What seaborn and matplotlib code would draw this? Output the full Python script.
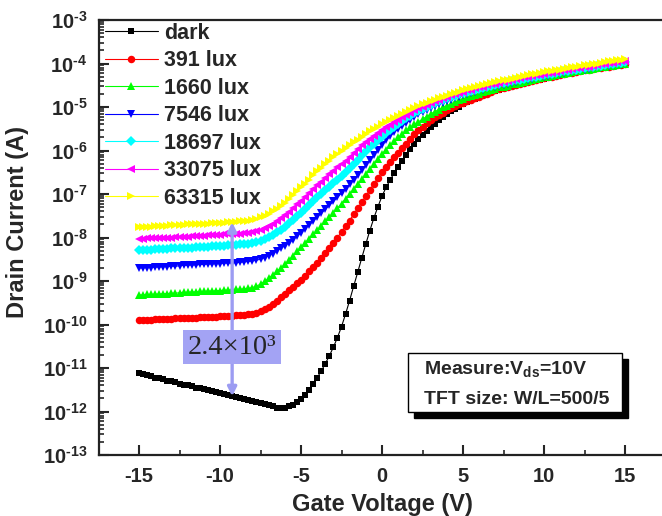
import numpy as np
import pandas as pd
import matplotlib
matplotlib.use("Agg")
import matplotlib.pyplot as plt
import seaborn as sns
from matplotlib.patches import Rectangle
from matplotlib.ticker import LogLocator, FuncFormatter, NullFormatter, MultipleLocator

# Gate voltage sweep (V)
gate_voltage = np.linspace(-15, 15, 121)

# log10 of drain current (A) for each illumination level
dark_log_id = [
    -11.12, -11.14, -11.17, -11.19, -11.22, -11.24, -11.26, -11.29,
    -11.31, -11.33, -11.36, -11.38, -11.40, -11.42, -11.45, -11.47,
    -11.49, -11.51, -11.54, -11.56, -11.58, -11.60, -11.63, -11.65,
    -11.67, -11.69, -11.72, -11.74, -11.76, -11.78, -11.81, -11.83,
    -11.85, -11.88, -11.91, -11.92, -11.91, -11.88, -11.84, -11.79,
    -11.72, -11.62, -11.50, -11.37, -11.22, -11.07, -10.90, -10.72,
    -10.52, -10.30, -10.05, -9.76, -9.45, -9.12, -8.80, -8.47,
    -8.15, -7.84, -7.55, -7.29, -7.05, -6.85, -6.68, -6.52,
    -6.38, -6.24, -6.10, -5.97, -5.85, -5.74, -5.64, -5.55,
    -5.46, -5.38, -5.30, -5.23, -5.16, -5.10, -5.04, -4.99,
    -4.94, -4.89, -4.85, -4.81, -4.77, -4.73, -4.70, -4.66,
    -4.63, -4.60, -4.57, -4.55, -4.52, -4.50, -4.47, -4.45,
    -4.43, -4.41, -4.39, -4.37, -4.35, -4.33, -4.31, -4.29,
    -4.27, -4.25, -4.23, -4.22, -4.20, -4.18, -4.17, -4.15,
    -4.14, -4.12, -4.11, -4.09, -4.08, -4.07, -4.05, -4.04,
    -4.03,
]
lux391_log_id = [
    -9.90, -9.90, -9.89, -9.89, -9.88, -9.88, -9.87, -9.87,
    -9.87, -9.86, -9.86, -9.85, -9.85, -9.84, -9.84, -9.83,
    -9.83, -9.82, -9.82, -9.82, -9.81, -9.81, -9.80, -9.80,
    -9.79, -9.79, -9.78, -9.77, -9.76, -9.74, -9.70, -9.65,
    -9.59, -9.52, -9.45, -9.37, -9.29, -9.21, -9.13, -9.05,
    -8.97, -8.88, -8.78, -8.68, -8.58, -8.47, -8.36, -8.24,
    -8.12, -8.00, -7.87, -7.74, -7.61, -7.47, -7.33, -7.19,
    -7.05, -6.91, -6.77, -6.63, -6.50, -6.38, -6.27, -6.16,
    -6.05, -5.94, -5.84, -5.73, -5.63, -5.54, -5.45, -5.37,
    -5.30, -5.24, -5.18, -5.13, -5.08, -5.03, -4.98, -4.94,
    -4.90, -4.86, -4.83, -4.80, -4.76, -4.72, -4.69, -4.65,
    -4.62, -4.59, -4.56, -4.54, -4.51, -4.49, -4.46, -4.44,
    -4.42, -4.40, -4.38, -4.36, -4.34, -4.32, -4.30, -4.28,
    -4.26, -4.24, -4.22, -4.21, -4.19, -4.17, -4.16, -4.14,
    -4.13, -4.11, -4.10, -4.08, -4.07, -4.06, -4.04, -4.03,
    -4.02,
]
lux1660_log_id = [
    -9.32, -9.32, -9.31, -9.31, -9.30, -9.30, -9.29, -9.29,
    -9.28, -9.28, -9.27, -9.26, -9.26, -9.25, -9.25, -9.24,
    -9.24, -9.23, -9.23, -9.22, -9.22, -9.21, -9.21, -9.20,
    -9.19, -9.19, -9.18, -9.17, -9.15, -9.12, -9.07, -9.01,
    -8.94, -8.86, -8.78, -8.70, -8.62, -8.52, -8.42, -8.32,
    -8.22, -8.12, -8.03, -7.93, -7.83, -7.73, -7.63, -7.53,
    -7.43, -7.32, -7.22, -7.11, -7.00, -6.89, -6.77, -6.66,
    -6.55, -6.43, -6.31, -6.19, -6.08, -5.98, -5.88, -5.79,
    -5.70, -5.62, -5.54, -5.47, -5.40, -5.34, -5.28, -5.22,
    -5.16, -5.11, -5.06, -5.01, -4.97, -4.93, -4.89, -4.85,
    -4.82, -4.78, -4.75, -4.72, -4.69, -4.66, -4.63, -4.60,
    -4.58, -4.55, -4.53, -4.51, -4.48, -4.46, -4.44, -4.42,
    -4.40, -4.38, -4.36, -4.34, -4.32, -4.30, -4.28, -4.27,
    -4.25, -4.23, -4.22, -4.20, -4.18, -4.17, -4.15, -4.14,
    -4.12, -4.11, -4.09, -4.08, -4.06, -4.05, -4.04, -4.02,
    -4.01,
]
lux7546_log_id = [
    -8.70, -8.70, -8.69, -8.69, -8.68, -8.68, -8.67, -8.67,
    -8.66, -8.66, -8.65, -8.64, -8.64, -8.63, -8.63, -8.62,
    -8.62, -8.61, -8.61, -8.60, -8.60, -8.59, -8.59, -8.58,
    -8.58, -8.57, -8.56, -8.55, -8.54, -8.52, -8.50, -8.46,
    -8.42, -8.37, -8.31, -8.25, -8.19, -8.12, -8.05, -7.97,
    -7.89, -7.80, -7.71, -7.62, -7.53, -7.44, -7.35, -7.26,
    -7.17, -7.08, -6.98, -6.88, -6.78, -6.67, -6.56, -6.45,
    -6.34, -6.22, -6.10, -5.98, -5.87, -5.77, -5.67, -5.58,
    -5.50, -5.43, -5.36, -5.29, -5.23, -5.17, -5.12, -5.07,
    -5.02, -4.98, -4.94, -4.90, -4.86, -4.83, -4.79, -4.76,
    -4.73, -4.70, -4.67, -4.65, -4.62, -4.60, -4.57, -4.55,
    -4.53, -4.51, -4.49, -4.47, -4.45, -4.43, -4.41, -4.39,
    -4.37, -4.35, -4.33, -4.32, -4.30, -4.28, -4.26, -4.25,
    -4.23, -4.21, -4.20, -4.18, -4.17, -4.15, -4.14, -4.12,
    -4.11, -4.09, -4.08, -4.06, -4.05, -4.03, -4.02, -4.01,
    -3.99,
]
lux18697_log_id = [
    -8.29, -8.29, -8.28, -8.28, -8.27, -8.27, -8.26, -8.26,
    -8.25, -8.25, -8.24, -8.24, -8.23, -8.23, -8.22, -8.22,
    -8.21, -8.21, -8.20, -8.20, -8.19, -8.19, -8.18, -8.18,
    -8.17, -8.16, -8.15, -8.14, -8.12, -8.10, -8.07, -8.03,
    -7.99, -7.94, -7.88, -7.82, -7.75, -7.67, -7.59, -7.51,
    -7.43, -7.35, -7.26, -7.17, -7.08, -7.00, -6.91, -6.83,
    -6.75, -6.67, -6.58, -6.50, -6.41, -6.31, -6.21, -6.11,
    -6.01, -5.92, -5.84, -5.76, -5.68, -5.60, -5.52, -5.45,
    -5.38, -5.32, -5.26, -5.20, -5.14, -5.09, -5.04, -4.99,
    -4.95, -4.91, -4.87, -4.83, -4.80, -4.77, -4.74, -4.71,
    -4.68, -4.65, -4.63, -4.60, -4.58, -4.56, -4.53, -4.51,
    -4.49, -4.47, -4.45, -4.43, -4.41, -4.39, -4.37, -4.35,
    -4.33, -4.32, -4.30, -4.28, -4.27, -4.25, -4.23, -4.22,
    -4.20, -4.18, -4.17, -4.15, -4.14, -4.12, -4.11, -4.09,
    -4.08, -4.06, -4.05, -4.03, -4.02, -4.01, -3.99, -3.98,
    -3.97,
]
lux33075_log_id = [
    -8.03, -8.03, -8.02, -8.02, -8.01, -8.01, -8.00, -8.00,
    -8.00, -7.99, -7.99, -7.98, -7.98, -7.97, -7.97, -7.96,
    -7.96, -7.95, -7.95, -7.94, -7.94, -7.93, -7.93, -7.92,
    -7.92, -7.91, -7.90, -7.89, -7.87, -7.85, -7.82, -7.78,
    -7.74, -7.69, -7.63, -7.56, -7.49, -7.41, -7.33, -7.24,
    -7.16, -7.07, -6.98, -6.89, -6.80, -6.72, -6.63, -6.55,
    -6.47, -6.39, -6.31, -6.23, -6.15, -6.06, -5.97, -5.88,
    -5.80, -5.73, -5.66, -5.60, -5.54, -5.47, -5.41, -5.35,
    -5.29, -5.23, -5.18, -5.13, -5.08, -5.03, -4.99, -4.95,
    -4.91, -4.87, -4.83, -4.80, -4.76, -4.73, -4.70, -4.67,
    -4.65, -4.62, -4.60, -4.57, -4.55, -4.53, -4.50, -4.48,
    -4.46, -4.44, -4.42, -4.40, -4.38, -4.36, -4.34, -4.32,
    -4.31, -4.29, -4.27, -4.26, -4.24, -4.22, -4.21, -4.19,
    -4.18, -4.16, -4.14, -4.13, -4.11, -4.10, -4.08, -4.07,
    -4.05, -4.04, -4.02, -4.01, -3.99, -3.98, -3.96, -3.95,
    -3.94,
]
lux63315_log_id = [
    -7.76, -7.76, -7.75, -7.75, -7.74, -7.74, -7.73, -7.73,
    -7.72, -7.72, -7.71, -7.71, -7.70, -7.70, -7.69, -7.69,
    -7.68, -7.68, -7.67, -7.67, -7.66, -7.66, -7.65, -7.65,
    -7.64, -7.63, -7.62, -7.61, -7.59, -7.57, -7.54, -7.50,
    -7.46, -7.40, -7.34, -7.27, -7.20, -7.12, -7.03, -6.94,
    -6.85, -6.76, -6.67, -6.57, -6.48, -6.40, -6.31, -6.23,
    -6.15, -6.08, -6.01, -5.94, -5.88, -5.81, -5.75, -5.68,
    -5.62, -5.56, -5.50, -5.45, -5.40, -5.35, -5.30, -5.25,
    -5.20, -5.15, -5.11, -5.06, -5.02, -4.98, -4.94, -4.91,
    -4.87, -4.84, -4.80, -4.77, -4.74, -4.71, -4.68, -4.65,
    -4.62, -4.59, -4.57, -4.54, -4.52, -4.49, -4.47, -4.45,
    -4.43, -4.41, -4.39, -4.37, -4.35, -4.33, -4.31, -4.29,
    -4.27, -4.25, -4.23, -4.22, -4.20, -4.18, -4.17, -4.15,
    -4.14, -4.12, -4.10, -4.09, -4.07, -4.06, -4.04, -4.03,
    -4.01, -4.00, -3.98, -3.97, -3.95, -3.94, -3.92, -3.91,
    -3.90,
]

series_labels = ["dark", "391 lux", "1660 lux", "7546 lux",
                 "18697 lux", "33075 lux", "63315 lux"]
series_log_id = [dark_log_id, lux391_log_id, lux1660_log_id, lux7546_log_id,
                 lux18697_log_id, lux33075_log_id, lux63315_log_id]

# on/off ratio annotation
ratio_text = "2.4×10³"
ratio_voltage = -9.25

# Styling
series_colors = ["#000000", "#ff0000", "#00ff00", "#0000ff",
                 "#00ffff", "#ff00ff", "#ffff00"]
series_markers = ["s", "o", "^", "v", "D", "<", ">"]
series_msize = [5.0, 5.4, 6.0, 6.0, 4.8, 6.0, 6.0]

sns.set_style("ticks")
plt.rcParams["font.family"] = ["Liberation Sans", "DejaVu Sans"]
plt.rcParams["font.weight"] = "bold"
plt.rcParams["axes.unicode_minus"] = False
plt.rcParams["mathtext.fontset"] = "custom"
plt.rcParams["mathtext.rm"] = "Liberation Sans:bold"
plt.rcParams["mathtext.bf"] = "Liberation Sans:bold"
plt.rcParams["mathtext.it"] = "Liberation Sans:bold:italic"

df = pd.concat(
    [pd.DataFrame({"Vg": gate_voltage,
                   "Id": 10.0 ** np.asarray(vals),
                   "series": lab})
     for lab, vals in zip(series_labels, series_log_id)],
    ignore_index=True,
)

fig = plt.figure(figsize=(6.62, 5.16), dpi=100)
ax = fig.add_axes([98.5 / 662, 61 / 516, 567 / 662, 435 / 516])

for lab, col, mk, ms in zip(series_labels, series_colors, series_markers, series_msize):
    sub = df[df["series"] == lab]
    sns.lineplot(data=sub, x="Vg", y="Id", ax=ax, color=col, marker=mk,
                 markersize=ms, markeredgewidth=0, linewidth=0.8,
                 label=lab, sort=False, estimator=None, errorbar=None)

ax.set_yscale("log")
ax.set_xlim(-17.5, 17.5)
ax.set_ylim(1e-13, 1e-3)


def decade_label(v, pos):
    e = int(round(np.log10(v)))
    if e < 0:
        return r"$\mathbf{10^{\text{-}%d}}$" % (-e)
    return r"$\mathbf{10^{%d}}$" % e


ax.xaxis.set_major_locator(MultipleLocator(5))
ax.xaxis.set_minor_locator(MultipleLocator(2.5))
ax.yaxis.set_major_locator(LogLocator(base=10, numticks=20))
ax.yaxis.set_minor_locator(LogLocator(base=10, subs=np.arange(2, 10), numticks=20))
ax.yaxis.set_minor_formatter(NullFormatter())
ax.yaxis.set_major_formatter(FuncFormatter(decade_label))

ax.tick_params(axis="both", which="major", direction="in", length=7, width=1.5,
               labelsize=14.5, top=False, right=False)
ax.tick_params(axis="both", which="minor", direction="in", length=3.5, width=1.2,
               top=False, right=False)
ax.tick_params(axis="x", which="major", pad=9)
ax.tick_params(axis="y", which="major", pad=8)
for lbl in ax.get_xticklabels():
    lbl.set_fontweight("bold")
for sp in ax.spines.values():
    sp.set_linewidth(1.6)
    sp.set_color("#222222")

ax.set_xlabel("Gate Voltage (V)", fontsize=17, fontweight="bold", labelpad=5)
ax.set_ylabel("Drain Current (A)", fontsize=17, fontweight="bold")
ax.yaxis.set_label_coords(-0.122, 0.535)

leg = ax.legend(loc="upper left", bbox_to_anchor=(0.0, 1.008), frameon=False,
                prop={"weight": "bold", "size": 15.5}, handlelength=2.45,
                handletextpad=0.3, labelspacing=0.3, borderaxespad=0.0,
                borderpad=0.3)

# Double-headed arrow between the brightest and dark curves
idx = int(np.argmin(np.abs(gate_voltage - ratio_voltage)))
y_top = 10.0 ** lux63315_log_id[idx]
y_bot = 10.0 ** dark_log_id[idx]
ax.annotate("", xy=(gate_voltage[idx], y_top), xytext=(gate_voltage[idx], y_bot),
            arrowprops=dict(arrowstyle="<|-|>", color="#9c9cf2", lw=2.4,
                            mutation_scale=13, shrinkA=0, shrinkB=0), zorder=9)
ax.text(gate_voltage[idx], 10.0 ** -10.52, ratio_text, ha="center", va="center",
        fontsize=20.5, fontweight="normal", family=["Liberation Serif", "DejaVu Serif"],
        bbox=dict(boxstyle="square,pad=0.16", fc="#a3a3f4", ec="none"), zorder=10)

# Measurement condition box with drop shadow
bx0, bx1 = (408 - 98.5) / 567, (622 - 98.5) / 567
by0, by1 = (455 - 412) / 435, (455 - 353) / 435
ax.add_patch(Rectangle((bx0 + 6 / 567, by0 - 6 / 435), bx1 - bx0, by1 - by0,
                       transform=ax.transAxes, fc="black", ec="black", zorder=11))
ax.add_patch(Rectangle((bx0, by0), bx1 - bx0, by1 - by0, transform=ax.transAxes,
                       fc="white", ec="black", lw=1.0, zorder=12))
tx = (424 - 98.5) / 567
ax.text(tx, (455 - 369) / 435, r"Measure:V$_{\mathbf{ds}}$=10V", transform=ax.transAxes,
        fontsize=14, fontweight="bold", ha="left", va="center", zorder=13)
ax.text(tx, (455 - 399) / 435, "TFT size: W/L=500/5", transform=ax.transAxes,
        fontsize=14, fontweight="bold", ha="left", va="center", zorder=13)

fig.savefig("out.png", dpi=100)
